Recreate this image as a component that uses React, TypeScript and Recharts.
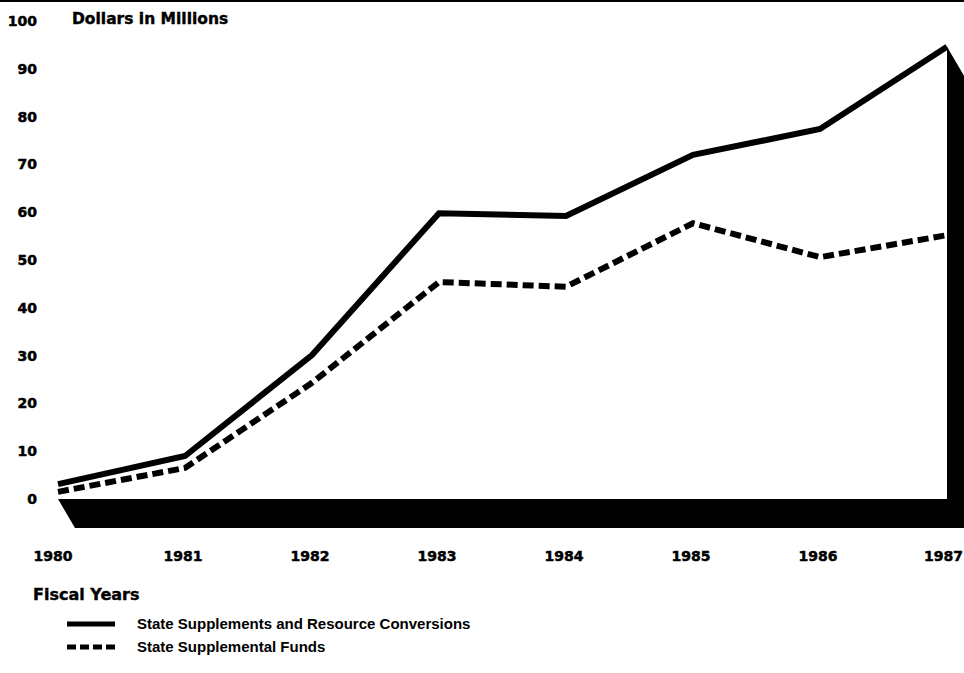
import React from 'react';
import { LineChart, Line, XAxis, YAxis, ReferenceArea } from 'recharts';

const years = ['1980', '1981', '1982', '1983', '1984', '1985', '1986', '1987'];
const supplementsAndConversions = [3.1, 9.0, 30.1, 59.8, 59.2, 72.0, 77.4, 94.6];
const supplementalFunds = [1.5, 6.5, 24.3, 45.4, 44.4, 57.7, 50.6, 55.2];
const yTicks = [0, 10, 20, 30, 40, 50, 60, 70, 80, 90, 100];

const data = years.map((year, i) => ({
  year,
  total: supplementsAndConversions[i],
  funds: supplementalFunds[i],
}));

const heavy = '"DejaVu Sans", sans-serif';
const depthX = 17;
const depthY = 29;

// black floor + right side wall, sized from the reference area the scales give us
const DepthBase = (props: any) => {
  const { x, y, width, height } = props;
  const left = x;
  const right = x + width;
  const top = y;
  const bottom = y + height;
  const pts = [
    [left, bottom],
    [right, bottom],
    [right, top],
    [right + depthX, top + depthY],
    [right + depthX, bottom + depthY],
    [left + depthX, bottom + depthY],
  ]
    .map((p) => p.join(','))
    .join(' ');
  return <polygon points={pts} fill="#000" />;
};

// year labels: first one nudged left, last one kept inside the page
const YearTick = (props: any) => {
  const { x, y, payload, index } = props;
  const last = index === years.length - 1;
  return (
    <text
      x={last ? x + depthX - 1 : index === 0 ? x - 5 : x - 2}
      y={y}
      dy="0.71em"
      textAnchor={last ? 'end' : 'middle'}
      fontFamily={heavy}
      fontWeight={700}
      fontSize={14}
      fill="#000"
      stroke="#000"
      strokeWidth={0.5}
    >
      {payload.value}
    </text>
  );
};

const App = () => {
  return (
    <div
      style={{
        position: 'absolute',
        left: 0,
        top: 0,
        width: 964,
        height: 673,
        background: '#fff',
        borderTop: '2px solid #000',
        boxSizing: 'border-box',
        overflow: 'hidden',
      }}
    >
      <div style={{ position: 'absolute', left: 0, top: -2 }}>
        <LineChart
          width={964}
          height={580}
          data={data}
          margin={{ top: 21, right: 17, left: 0, bottom: 21 }}
        >
          <YAxis
            type="number"
            domain={[0, 100]}
            ticks={yTicks}
            width={58}
            axisLine={false}
            tickLine={false}
            tickMargin={15}
            tick={{
              fontFamily: heavy,
              fontWeight: 700,
              fontSize: 14,
              fill: '#000',
              stroke: '#000',
              strokeWidth: 0.5,
            }}
          />
          <XAxis
            dataKey="year"
            height={60}
            axisLine={false}
            tickLine={false}
            tickMargin={46}
            interval={0}
            tick={<YearTick />}
          />
          <ReferenceArea
            x1={years[0]}
            x2={years[years.length - 1]}
            y1={0}
            y2={Math.max(...supplementsAndConversions)}
            shape={<DepthBase />}
          />
          <Line
            dataKey="total"
            stroke="#000"
            strokeWidth={6}
            dot={false}
            isAnimationActive={false}
          />
          <Line
            dataKey="funds"
            stroke="#000"
            strokeWidth={6}
            strokeDasharray="11 5"
            dot={false}
            isAnimationActive={false}
          />
        </LineChart>
      </div>

      <div
        style={{
          position: 'absolute',
          left: 72,
          top: 8,
          fontFamily: heavy,
          fontWeight: 700,
          fontSize: 15.5,
          WebkitTextStroke: '0.4px #000',
          whiteSpace: 'nowrap',
        }}
      >
        Dollars in Millions
      </div>

      <div
        style={{
          position: 'absolute',
          left: 33,
          top: 583,
          fontFamily: heavy,
          fontWeight: 700,
          fontSize: 16,
          WebkitTextStroke: '0.4px #000',
          whiteSpace: 'nowrap',
        }}
      >
        Fiscal Years
      </div>

      <svg style={{ position: 'absolute', left: 0, top: 608 }} width={964} height={50}>
        <line x1={67} x2={115} y1={14} y2={14} stroke="#000" strokeWidth={5} />
        <line
          x1={67}
          x2={115}
          y1={37}
          y2={37}
          stroke="#000"
          strokeWidth={5}
          strokeDasharray="9 4"
        />
        <text
          x={137}
          y={19}
          fontFamily='"Liberation Sans", Arial, sans-serif'
          fontWeight={700}
          fontSize={15}
        >
          State Supplements and Resource Conversions
        </text>
        <text
          x={137}
          y={42}
          fontFamily='"Liberation Sans", Arial, sans-serif'
          fontWeight={700}
          fontSize={15}
        >
          State Supplemental Funds
        </text>
      </svg>
    </div>
  );
};

export default App;
